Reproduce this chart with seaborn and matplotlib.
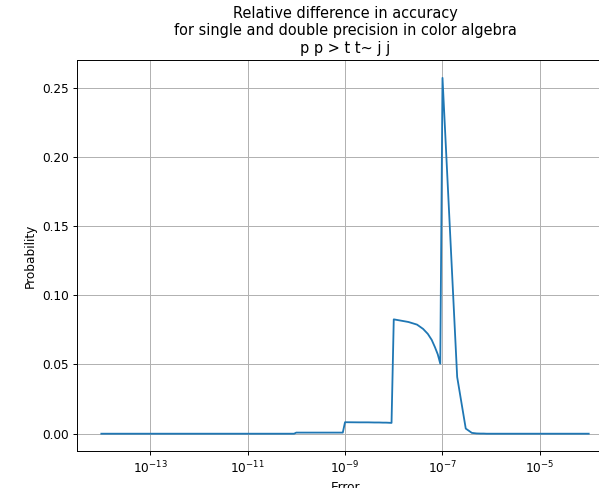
import numpy as np
import pandas as pd
import seaborn as sns
import matplotlib
matplotlib.use("Agg")
import matplotlib.pyplot as plt

# bins: 1..9 times each decade from 1e-14 to 1e-5, plus 1e-4
mantissas = [1, 2, 3, 4, 5, 6, 7, 8, 9]
exponents = list(range(-14, -4))

# probability per bin, one list per decade
p_e14 = [0, 0, 0, 0, 0, 0, 0, 0, 0]
p_e13 = [0, 0, 0, 0, 0, 0, 0, 0, 0]
p_e12 = [0, 0, 0, 0, 0, 0, 0, 0, 0]
p_e11 = [0, 0, 0, 0, 0, 0, 0, 0, 0]
p_e10 = [0.0008, 0.0008, 0.0008, 0.0008, 0.0008, 0.0008, 0.0008, 0.0008, 0.0008]
p_e9 = [0.0083, 0.0082, 0.0082, 0.0081, 0.0081, 0.0080, 0.0080, 0.0079, 0.0078]
p_e8 = [0.0826, 0.0807, 0.0788, 0.0757, 0.0721, 0.0678, 0.0625, 0.0573, 0.0506]
p_e7 = [0.257, 0.041, 0.0037, 0.0006, 0.0002, 0.0001, 0.0001, 0, 0]
p_e6 = [0, 0, 0, 0, 0, 0, 0, 0, 0]
p_e5 = [0, 0, 0, 0, 0, 0, 0, 0, 0]
p_last = [0]

errors = [m * 10.0 ** e for e in exponents for m in mantissas] + [1e-4]
probs = p_e14 + p_e13 + p_e12 + p_e11 + p_e10 + p_e9 + p_e8 + p_e7 + p_e6 + p_e5 + p_last

df = pd.DataFrame({"Error": errors, "Probability": probs})

dpi = 87
fig = plt.figure(figsize=(599 / dpi, 488 / dpi), dpi=dpi)
ax = fig.add_axes([0.1285, 0.0748, 0.895, 0.802])
ax.set_xscale("log")
sns.lineplot(data=df, x="Error", y="Probability", ax=ax, color="C0", linewidth=1.5)
ax.grid(True)
ax.set_title("Relative difference in accuracy\nfor single and double precision in color algebra\np p > t t~ j j")
ax.set_xlabel("Error")
ax.set_ylabel("Probability")

fig.savefig("out.png", dpi=dpi)
